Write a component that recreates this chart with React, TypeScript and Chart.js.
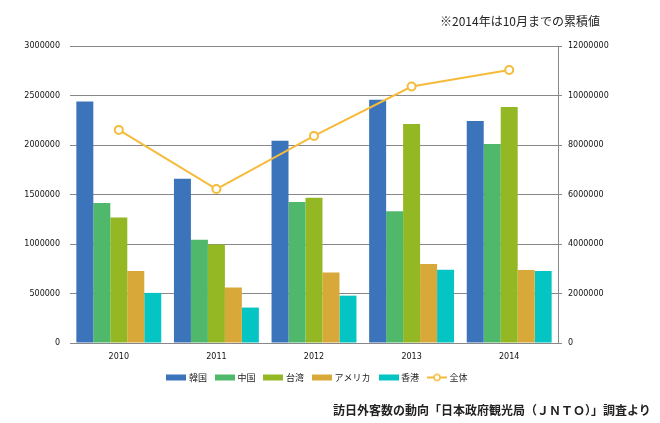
import React, { useEffect, useRef } from 'react';
import { Chart, registerables } from 'chart.js';

Chart.register(...registerables);

const years = ['2010', '2011', '2012', '2013', '2014'];
const korea = [2440000, 1658000, 2043000, 2456000, 2242000];
const china = [1413000, 1043000, 1425000, 1330000, 2010000];
const taiwan = [1268000, 994000, 1466000, 2211000, 2384000];
const usa = [727000, 560000, 712000, 799000, 737000];
const hongkong = [506000, 358000, 478000, 740000, 728000];
const total = [8611000, 6219000, 8368000, 10364000, 11030000];

const seriesNames = ['韓国', '中国', '台湾', 'アメリカ', '香港', '全体'];
const leftTicksMax = 3000000;
const rightTicksMax = 12000000;

const COLORS = ['#3c74bb', '#50b86b', '#94b824', '#d8a838', '#05c4c4', '#f5bb3b'];

function legendImage(color: string, isLine: boolean): HTMLCanvasElement {
  const c = document.createElement('canvas');
  c.width = 20;
  c.height = 10;
  const g = c.getContext('2d')!;
  if (isLine) {
    g.strokeStyle = color;
    g.lineWidth = 2;
    g.beginPath();
    g.moveTo(0, 5);
    g.lineTo(20, 5);
    g.stroke();
    g.beginPath();
    g.arc(10, 5, 3, 0, Math.PI * 2);
    g.fillStyle = '#fff';
    g.fill();
    g.lineWidth = 1.5;
    g.stroke();
  } else {
    g.fillStyle = color;
    g.fillRect(0, 2, 20, 6);
  }
  return c;
}

export default function App() {
  const ref = useRef<HTMLCanvasElement>(null);

  useEffect(() => {
    const canvas = ref.current!;
    const images = COLORS.map((c, i) => legendImage(c, i === 5));
    const tickFont = { family: '"DejaVu Sans"', size: 8 };
    const barData = [korea, china, taiwan, usa, hongkong];

    const datasets: any[] = barData.map((d, i) => ({
      type: 'bar',
      label: seriesNames[i],
      data: d,
      backgroundColor: COLORS[i],
      borderWidth: 0,
      barPercentage: 1,
      categoryPercentage: 0.87,
      yAxisID: 'y',
      order: 1,
    }));
    datasets.push({
      type: 'line',
      label: seriesNames[5],
      data: total,
      borderColor: COLORS[5],
      backgroundColor: '#ffffff',
      borderWidth: 2,
      pointRadius: 4,
      pointBorderWidth: 2,
      pointBackgroundColor: '#ffffff',
      pointBorderColor: COLORS[5],
      yAxisID: 'y1',
      order: 0,
    });

    const chart = new Chart(canvas, {
      type: 'bar',
      data: { labels: years, datasets },
      options: {
        responsive: false,
        animation: false,
        layout: { padding: { top: 46, left: 0, right: 24, bottom: 31 } },
        plugins: {
          tooltip: { enabled: false },
          legend: {
            position: 'bottom',
            labels: {
              usePointStyle: true,
              pointStyleWidth: 16,
              boxHeight: 9,
              padding: 10,
              color: '#222',
              font: { family: '"Noto Sans CJK JP"', size: 9 },
              sort: (a: any, b: any) => a.datasetIndex - b.datasetIndex,
              generateLabels: (ch: any) => {
                const items = (Chart.defaults.plugins.legend.labels as any).generateLabels(ch);
                items.forEach((it: any) => {
                  it.pointStyle = images[it.datasetIndex];
                });
                return items;
              },
            },
          },
        },
        scales: {
          x: {
            grid: { display: false, drawTicks: false },
            border: { display: false },
            ticks: { font: tickFont, color: '#111', padding: 9 },
            afterFit: (s: any) => {
              s.height = 20;
            },
          },
          y: {
            position: 'left',
            min: 0,
            max: leftTicksMax,
            ticks: {
              stepSize: 500000,
              font: tickFont,
              color: '#111',
              padding: 10,
              callback: (v: any) => String(v),
            },
            grid: { color: '#888888', lineWidth: 1, drawTicks: false },
            border: { display: false },
            afterFit: (s: any) => {
              s.width = 70;
            },
          },
          y1: {
            position: 'right',
            min: 0,
            max: rightTicksMax,
            ticks: {
              stepSize: 2000000,
              font: tickFont,
              color: '#111',
              padding: 6,
              callback: (v: any) => String(v),
            },
            grid: { drawOnChartArea: false, color: '#888888', tickLength: 4 },
            border: { display: true, color: '#888888', width: 1 },
            afterFit: (s: any) => {
              s.width = 78;
            },
          },
        },
      } as any,
    });
    return () => chart.destroy();
  }, []);

  return (
    <div style={{ position: 'absolute', left: 0, top: 0, width: 660, height: 423, background: '#fff' }}>
      <canvas ref={ref} width={660} height={423} style={{ position: 'absolute', left: 0, top: 0 }} />
      <div
        style={{
          position: 'absolute',
          left: 440,
          top: 12,
          font: '12px "Noto Sans CJK JP"',
          lineHeight: '18px',
          color: '#222',
          whiteSpace: 'nowrap',
        }}
      >
        ※2014年は10月までの累積値
      </div>
      <div
        style={{
          position: 'absolute',
          left: 333,
          top: 401,
          font: 'bold 12px "Noto Sans CJK JP"',
          lineHeight: '18px',
          color: '#222',
          whiteSpace: 'nowrap',
        }}
      >
        訪日外客数の動向「日本政府観光局（ＪＮＴＯ）」調査より
      </div>
    </div>
  );
}
